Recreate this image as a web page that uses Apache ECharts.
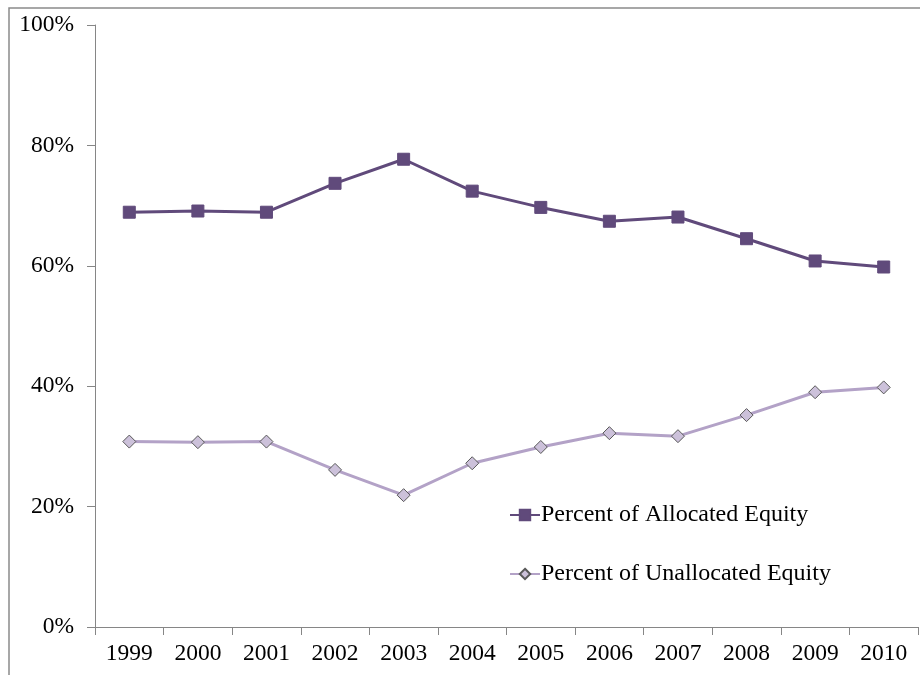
<!DOCTYPE html>
<html>
<head>
<meta charset="utf-8">
<script src="https://cdn.jsdelivr.net/npm/echarts@6/dist/echarts.min.js"></script>
<style>html,body{margin:0;padding:0;background:#fff;}#c{width:920px;height:675px;}</style>
</head>
<body>
<div id="c"></div>
<script>
const years = ['1999','2000','2001','2002','2003','2004','2005','2006','2007','2008','2009','2010'];
const allocated = [68.9, 69.1, 68.9, 73.7, 77.7, 72.4, 69.7, 67.4, 68.1, 64.5, 60.8, 59.8];
const unallocated = [30.8, 30.7, 30.8, 26.1, 21.9, 27.2, 29.9, 32.2, 31.7, 35.2, 39.0, 39.8];
const yTicks = [0, 20, 40, 60, 80, 100];

const font = 'Liberation Serif, Times New Roman, serif';
const chart = echarts.init(document.getElementById('c'));
chart.setOption({
  animation: false,
  backgroundColor: '#fff',
  graphic: [{
    type: 'rect', left: 6.5, top: 5.5, z: -1,
    shape: { width: 960, height: 720 },
    style: { fill: 'none', stroke: '#8a8a8a', lineWidth: 1.5 }
  }],
  grid: { left: 95, top: 25, right: 2, bottom: 48, containLabel: false },
  legend: {
    orient: 'vertical', left: 504, top: 498, itemGap: 35,
    itemWidth: 30, itemHeight: 13,
    textStyle: { fontFamily: font, fontSize: 24, color: '#000', padding: [0,0,0,-4] },
    data: ['Percent of Allocated Equity', 'Percent of Unallocated Equity']
  },
  xAxis: {
    type: 'category', data: years, boundaryGap: true,
    axisLine: { lineStyle: { color: '#868686', width: 1 } },
    axisTick: { show: true, length: 8, lineStyle: { color: '#868686' } },
    axisLabel: { fontFamily: font, fontSize: 23.5, color: '#000', margin: 15 },
    splitLine: { show: false }
  },
  yAxis: {
    type: 'value', min: yTicks[0], max: yTicks[yTicks.length-1], interval: 20,
    axisLine: { show: true, lineStyle: { color: '#868686', width: 1 } },
    axisTick: { show: true, length: 8, lineStyle: { color: '#868686' } },
    axisLabel: { fontFamily: font, fontSize: 23.5, color: '#000', margin: 21, formatter: v => v + '%' },
    splitLine: { show: false }
  },
  series: [
    {
      name: 'Percent of Allocated Equity', type: 'line', data: allocated,
      symbol: 'rect', symbolSize: 12,
      lineStyle: { color: '#604A7B', width: 3 },
      itemStyle: { color: '#604A7B', borderColor: '#604A7B', borderWidth: 1 }
    },
    {
      name: 'Percent of Unallocated Equity', type: 'line', data: unallocated,
      symbol: 'diamond', symbolSize: 13,
      lineStyle: { color: '#B3A2C7', width: 3 },
      itemStyle: { color: '#CCC1DA', borderColor: '#595959', borderWidth: 1 }
    }
  ]
});
</script>
</body>
</html>
